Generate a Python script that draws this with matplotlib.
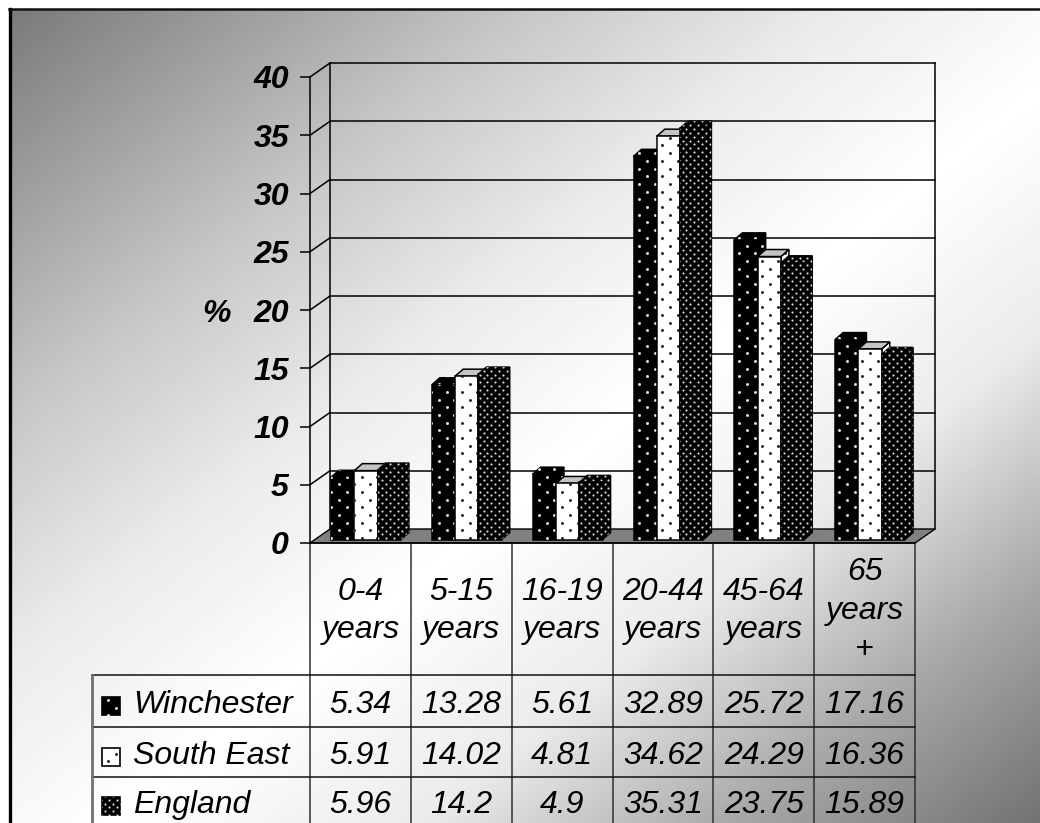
import numpy as np
import matplotlib
matplotlib.use("Agg")
import matplotlib.pyplot as plt
from matplotlib.patches import Polygon, Rectangle
from matplotlib.transforms import IdentityTransform

plt.rcParams['font.family'] = ['Liberation Sans', 'DejaVu Sans']

age_groups = ["0-4\nyears", "5-15\nyears", "16-19\nyears", "20-44\nyears", "45-64\nyears", "65\nyears\n+"]
series_names = ["Winchester", "South East", "England"]
winchester = [5.34, 13.28, 5.61, 32.89, 25.72, 17.16]
south_east = [5.91, 14.02, 4.81, 34.62, 24.29, 16.36]
england = [5.96, 14.2, 4.9, 35.31, 23.75, 15.89]
y_ticks = [0, 5, 10, 15, 20, 25, 30, 35, 40]

WIDTH, HEIGHT = 1040, 823
TEXT_SIZE = 23

# fill colour, dot colour, dot pitch (x, y) in pixels, dot area, top face colour
styles = [
    ("black", "#e4e4e4", 15.4, 7.7, 4.5, "black"),
    ("white", "#202020", 15.4, 7.7, 4.5, "#c4c4c4"),
    ("black", "#d8d8d8", 7.8, 3.9, 2.4, "black"),
]


def dot_fill(ax, patch, style, zorder):
    """Staggered dot texture clipped to a patch, laid out in pixels."""
    _, dot_color, pitch_x, pitch_y, area, _ = style
    box = patch.get_window_extent()
    xs, ys = [], []
    rows = np.arange(np.floor(box.y0 / pitch_y), np.ceil(box.y1 / pitch_y) + 1)
    for row in rows:
        shift = pitch_x / 2 if int(row) % 2 else 0
        cols = np.arange(np.floor(box.x0 / pitch_x) - 1, np.ceil(box.x1 / pitch_x) + 1)
        xs.extend(cols * pitch_x + shift)
        ys.extend([row * pitch_y] * len(cols))
    dots = ax.scatter(xs, ys, s=area, c=dot_color, linewidths=0,
                      transform=IdentityTransform(), zorder=zorder)
    dots.set_clip_path(patch)


fig = plt.figure(figsize=(WIDTH / 100, HEIGHT / 100), dpi=100, facecolor="white")

# Full page layer in pixel coordinates: gradient, frame and table
sheet = fig.add_axes([0, 0, 1, 1], zorder=0)
sheet.set_xlim(0, WIDTH)
sheet.set_ylim(HEIGHT, 0)
sheet.axis("off")

gx, gy = np.meshgrid(np.linspace(0, 1, 260), np.linspace(0, 1, 206))
ramp = np.interp((gx + gy) / 2,
                 [0, 0.1, 0.25, 0.4, 0.55, 0.7, 0.85, 1],
                 [0.48, 0.6, 0.78, 0.92, 1, 0.92, 0.66, 0.45])
sheet.imshow(ramp, extent=(10, WIDTH, HEIGHT, 9), cmap="gray", vmin=0, vmax=1,
             aspect="auto", interpolation="bilinear", zorder=0)
sheet.set_xlim(0, WIDTH)
sheet.set_ylim(HEIGHT, 0)
sheet.plot([10, 10], [HEIGHT, 9], color="black", lw=2.4, zorder=1)
sheet.plot([9, WIDTH], [9, 9], color="#111111", lw=1.8, zorder=1)

# Data table under the plot
col_edges = np.linspace(310, 915, len(age_groups) + 1)
col_centers = (col_edges[:-1] + col_edges[1:]) / 2
row_lines = [675, 727, 777]
row_centers = [705, 756, 805]

for x in col_edges:
    sheet.plot([x, x], [543, HEIGHT], color="#303030", lw=1.1, zorder=2)
for y in row_lines[1:]:
    sheet.plot([92, 915], [y, y], color="#111111", lw=1.1, zorder=2)
sheet.plot([92, 915], [row_lines[0]] * 2, color="#111111", lw=1.1, zorder=2)
sheet.plot([92, 92], [row_lines[0], HEIGHT], color="#707070", lw=2, zorder=2)

for x, label in zip(col_centers, age_groups):
    sheet.text(x, 611, label, ha="center", va="center", fontsize=TEXT_SIZE,
               style="italic", linespacing=1.38, zorder=3)

rows = [winchester, south_east, england]
for name, values, y, style in zip(series_names, rows, row_centers, styles):
    swatch = Rectangle((102, y - 8), 18, 18, facecolor=style[0], edgecolor="black",
                       lw=1.2, zorder=3)
    sheet.add_patch(swatch)
    dot_fill(sheet, swatch, style, 4)
    sheet.text(133, y, name, ha="left", va="center", fontsize=TEXT_SIZE,
               style="italic", zorder=3)
    for x, value in zip(col_centers, values):
        sheet.text(x, y, f"{value:g}", ha="center", va="center", fontsize=TEXT_SIZE,
                   style="italic", zorder=3)

sheet.text(216, 314, "%", ha="center", va="center", fontsize=TEXT_SIZE,
           weight="bold", style="italic", zorder=3)

# Plot layer: front plane of the 3D box in data coordinates
ax = fig.add_axes([310 / WIDTH, 1 - 543 / HEIGHT, 605 / WIDTH, 466 / HEIGHT],
                  zorder=1, facecolor="none")
ax.set_xlim(0, 6)
ax.set_ylim(0, 40)
ax.set_xticks([])
ax.set_yticks(y_ticks)
ax.tick_params(axis="y", length=7.2, width=1.1, pad=8)
for label in ax.get_yticklabels():
    label.set_fontsize(TEXT_SIZE)
    label.set_fontweight("bold")
    label.set_fontstyle("italic")
for side in ["top", "right"]:
    ax.spines[side].set_visible(False)
ax.spines["left"].set_linewidth(1.1)
ax.spines["bottom"].set_linewidth(1.1)

x_per_px = 6 / 605
y_per_px = 40 / 466
wall_dx, wall_dy = 20 * x_per_px, 14 * y_per_px

floor = Polygon([(0, 0), (wall_dx, wall_dy), (6 + wall_dx, wall_dy), (6, 0)],
                facecolor="#808080", edgecolor="black", lw=1, clip_on=False, zorder=1)
ax.add_patch(floor)

for value in y_ticks[1:]:
    ax.plot([0, wall_dx], [value, value + wall_dy], color="black", lw=1.1,
            clip_on=False, zorder=1)
    ax.plot([wall_dx, 6 + wall_dx], [value + wall_dy] * 2, color="black", lw=1.1,
            clip_on=False, zorder=1)
ax.plot([wall_dx, wall_dx], [wall_dy, 40 + wall_dy], color="black", lw=1.1,
        clip_on=False, zorder=1)
ax.plot([6 + wall_dx, 6 + wall_dx], [wall_dy, 40 + wall_dy], color="black", lw=1.1,
        clip_on=False, zorder=1)

# Clustered bars, each with a top and side face, painted left to right
bar_w = 23.3 * x_per_px
bar_dx, bar_dy = 8 * x_per_px, 7 * y_per_px
base = 3.5 * y_per_px
group_start = 21 * x_per_px

z = 2
for cat in range(len(age_groups)):
    for s, (values, style) in enumerate(zip(rows, styles)):
        left = cat + group_start + s * bar_w
        top = base + values[cat]
        right = left + bar_w

        side = Polygon([(right, base), (right + bar_dx, base + bar_dy),
                        (right + bar_dx, top + bar_dy), (right, top)],
                       facecolor=style[0], edgecolor="black", lw=1.1, zorder=z)
        ax.add_patch(side)
        dot_fill(ax, side, style, z)
        cap = Polygon([(left, top), (left + bar_dx, top + bar_dy),
                       (right + bar_dx, top + bar_dy), (right, top)],
                      facecolor=style[5], edgecolor="black", lw=1.1, zorder=z)
        ax.add_patch(cap)
        if style[5] == "black":
            dot_fill(ax, cap, style, z)
        front = ax.bar(left, values[cat], width=bar_w, bottom=base, align="edge",
                       color=style[0], edgecolor="black", linewidth=1.1, zorder=z + 0.1)[0]
        dot_fill(ax, front, style, z + 0.2)
        z += 1

ax.set_xlim(0, 6)
ax.set_ylim(0, 40)

plt.savefig("out.png", dpi=100)
plt.close()
